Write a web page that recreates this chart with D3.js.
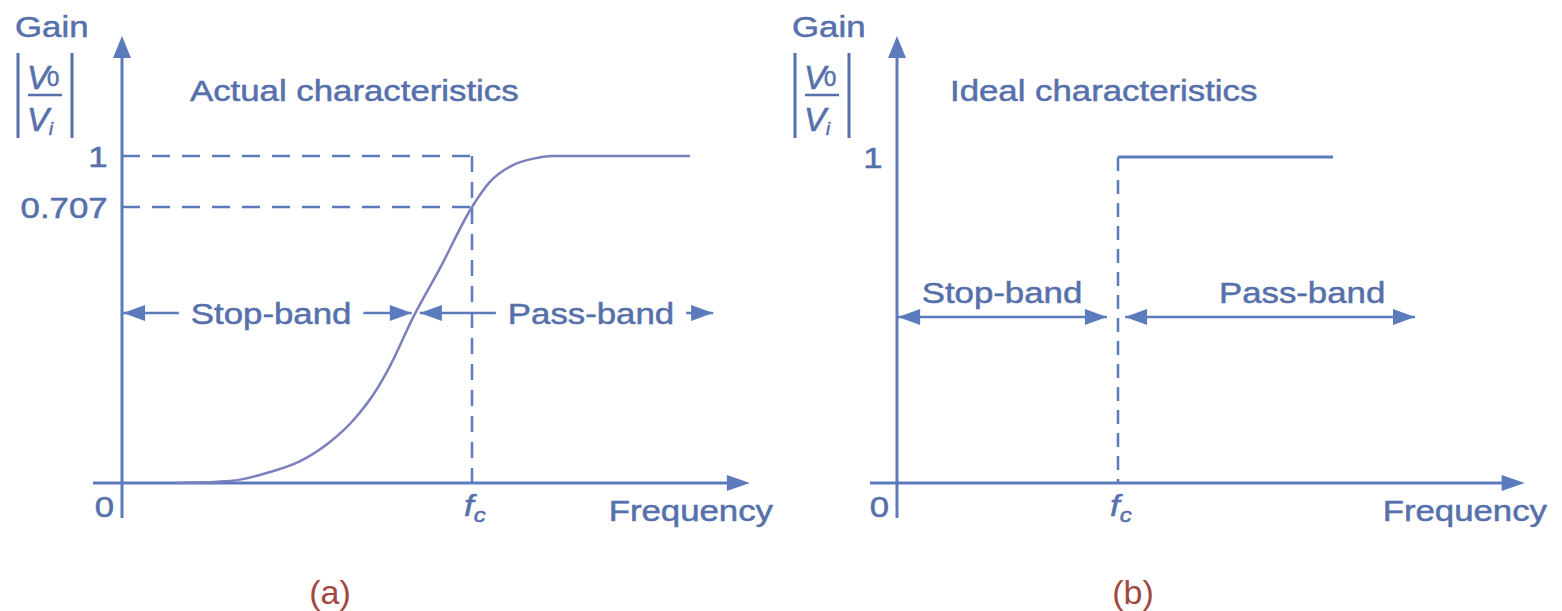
<!DOCTYPE html>
<html>
<head>
<meta charset="utf-8">
<script src="https://cdn.jsdelivr.net/npm/d3@7"></script>
<style>
    body { margin: 0; background: #fff; }
    svg text { font-family: "Liberation Sans", Arial, sans-serif; }
</style>
</head>
<body>
<svg id="chart" width="1562" height="611"></svg>
<script>
const actualFreq = [0.157, 0.309, 0.423, 0.509, 0.594, 0.666, 0.723, 0.766, 0.831, 0.909, 1.0, 1.051, 1.117, 1.186, 1.229, 1.623]
const actualGain = [0, 0.005, 0.028, 0.056, 0.105, 0.166, 0.233, 0.300, 0.423, 0.551, 0.707, 0.851, 0.948, 0.989, 1, 1]
// ideal filter: flat 1 above fc
const idealFreq = [1, 1.973]
const idealGain = [1, 1]
const gainTicksA = [1, 0.707]
const gainTicksB = [1]
const bandNames = ['Stop-band', 'Pass-band']
const panelTitles = ['Actual characteristics', 'Ideal characteristics']
const panelNames = ['(a)', '(b)']

const AXIS = '#5b7bbd'
const TEXT = '#5670ab'
const CURVE = '#7b80bd'
const NAME = '#a0483f'
const SX = 1.2 // the picture is a bit wider than it is tall
const FS = 29

const svg = d3.select('#chart')

function label(g, str, x, y, size, anchor) {
    return g.append('text')
        .attr('transform', `translate(${x},${y}) scale(${SX},1)`)
        .attr('text-anchor', anchor || 'start')
        .attr('font-size', size)
        .attr('fill', TEXT)
        .attr('stroke', TEXT).attr('stroke-width', 0.5)
        .text(str)
}

// filled triangle, tip at (x, y)
function head(g, x, y, dir, len = 22, half = 8) {
    let p
    if (dir === 'right') p = [[x, y], [x - len, y - half], [x - len, y + half]]
    else if (dir === 'left') p = [[x, y], [x + len, y - half], [x + len, y + half]]
    else p = [[x, y], [x - half - 1, y + len], [x + half + 1, y + len]]
    g.append('path').attr('d', 'M' + p.join('L') + 'Z').attr('fill', AXIS)
}

function bandArrow(g, x, y, band, name, inline) {
    const [from, to, at] = band
    g.append('line')
        .attr('x1', x(from)).attr('x2', x(to))
        .attr('y1', y).attr('y2', y)
        .attr('stroke', AXIS).attr('stroke-width', 2.5)
    head(g, x(from), y, 'left', 22, 8)
    head(g, x(to), y, 'right', 22, 8)
    const cx = x(at)
    if (inline) {
        const t = label(g, name, cx, y + 11, FS, 'middle')
        const w = t.node().getBBox().width * SX
        // clear a gap in the arrow for the text
        g.insert('rect', () => t.node())
            .attr('x', cx - w / 2 - 12).attr('width', w + 24)
            .attr('y', y - 6).attr('height', 12)
            .attr('fill', '#fff')
    } else {
        label(g, name, cx, y - 14, FS, 'middle')
    }
}

function ratioLabel(g, x0) {
    // |V0 / Vi| under "Gain"
    g.append('line').attr('x1', x0).attr('x2', x0).attr('y1', 53).attr('y2', 138)
        .attr('stroke', TEXT).attr('stroke-width', 3)
    g.append('line').attr('x1', x0 + 54).attr('x2', x0 + 54).attr('y1', 53).attr('y2', 138)
        .attr('stroke', TEXT).attr('stroke-width', 3)
    g.append('line').attr('x1', x0 + 10).attr('x2', x0 + 44).attr('y1', 95).attr('y2', 95)
        .attr('stroke', TEXT).attr('stroke-width', 2.5)
    const v0 = g.append('text').attr('x', x0 + 9).attr('y', 89).attr('fill', TEXT)
        .attr('stroke', TEXT).attr('stroke-width', 0.6).attr('font-size', 33)
    v0.append('tspan').attr('font-style', 'italic').text('V')
    v0.append('tspan').attr('font-size', 22).attr('dx', -2).attr('dy', -3).text('0')
    const vi = g.append('text').attr('x', x0 + 9).attr('y', 131).attr('fill', TEXT)
        .attr('stroke', TEXT).attr('stroke-width', 0.6).attr('font-size', 33)
    vi.append('tspan').attr('font-style', 'italic').text('V')
    vi.append('tspan').attr('font-size', 18).attr('font-style', 'italic').attr('dy', 4).text('i')
}

function drawPanel(p) {
    const g = svg.append('g')
    const x = d3.scaleLinear().domain([0, 1]).range(p.xRange)
    const y = d3.scaleLinear().domain(p.yDomain).range(p.yRange)

    // gain axis labels
    label(g, 'Gain', p.gainX, 37, FS)
    ratioLabel(g, p.gainX + 3)

    const yAxis = d3.axisLeft(y).tickValues(p.ticks).tickSize(0).tickPadding(12)
        .tickFormat(d => d === 1 ? '1' : d3.format('.3f')(d))
    const ya = g.append('g').attr('transform', `translate(${x(0)},0)`).call(yAxis)
    ya.select('.domain').remove()
    ya.selectAll('text')
        .attr('font-size', FS).attr('fill', TEXT)
        .attr('stroke', TEXT).attr('stroke-width', 0.5)
        .attr('font-family', '"Liberation Sans", Arial, sans-serif')
        .attr('transform', `scale(${SX},1)`).attr('dy', '0.36em')

    // dashed guides
    if (p.guides) {
        p.ticks.forEach(t => {
            g.append('line').attr('x1', x(0)).attr('x2', x(1)).attr('y1', y(t)).attr('y2', y(t))
                .attr('stroke', AXIS).attr('stroke-width', 2.5).attr('stroke-dasharray', '18,12')
        })
    }
    g.append('line').attr('x1', x(1)).attr('x2', x(1)).attr('y1', y(1)).attr('y2', y(0))
        .attr('stroke', AXIS).attr('stroke-width', 2.5).attr('stroke-dasharray', p.dash)

    // axes with arrow heads
    g.append('line').attr('x1', x(0)).attr('x2', x(0)).attr('y1', 518).attr('y2', 50)
        .attr('stroke', AXIS).attr('stroke-width', 3)
    head(g, x(0), 36, 'up', 22, 8)
    g.append('line').attr('x1', x(p.xMin)).attr('x2', x(p.xMax) - 10).attr('y1', y(0)).attr('y2', y(0))
        .attr('stroke', AXIS).attr('stroke-width', 3)
    head(g, x(p.xMax), y(0), 'right', 23, 8)

    // x labels
    label(g, '0', x(0) - 8, 517, FS, 'end')
    const fc = g.append('text')
        .attr('transform', `translate(${x(1) - 8},516) scale(${SX},1)`)
        .attr('font-size', FS).attr('fill', TEXT)
        .attr('stroke', TEXT).attr('stroke-width', 0.5)
    fc.append('tspan').attr('font-style', 'italic').text('f')
    fc.append('tspan').attr('font-size', 20).attr('font-style', 'italic').attr('dy', 6).text('c')
    label(g, 'Frequency', p.freqX, 521, FS, 'end')

    label(g, p.title, p.titleX, 101, FS)

    // response curve
    const line = d3.line()
        .x(d => x(d[0])).y(d => y(d[1]))
        .curve(p.smooth ? d3.curveMonotoneX : d3.curveLinear)
    g.append('path')
        .datum(d3.zip(p.freq, p.gain))
        .attr('fill', 'none')
        .attr('stroke', p.smooth ? CURVE : AXIS)
        .attr('stroke-width', p.smooth ? 2.5 : 3)
        .attr('d', line)

    bandArrow(g, x, p.bandY, p.stop, bandNames[0], p.inline)
    bandArrow(g, x, p.bandY, p.pass, bandNames[1], p.inline)

    svg.append('text')
        .attr('x', p.nameX).attr('y', 604)
        .attr('text-anchor', 'middle')
        .attr('font-family', '"DejaVu Sans Mono", monospace')
        .attr('font-size', 34).attr('fill', NAME)
        .text(p.name)
}

// band arrows: [start, end, text centre] in units of fc
drawPanel({
    xRange: [122, 472], yDomain: [0, 0.707, 1], yRange: [483, 207, 156],
    ticks: gainTicksA, guides: true, dash: '16,10', smooth: true,
    freq: actualFreq, gain: actualGain,
    xMin: -0.083, xMax: 1.794, gainX: 15, freqX: 773,
    title: panelTitles[0], titleX: 190, name: panelNames[0], nameX: 330,
    bandY: 313, inline: true, stop: [0.003, 0.828, 0.426], pass: [0.851, 1.689, 1.34]
})
drawPanel({
    xRange: [897, 1118], yDomain: [0, 1], yRange: [483, 157],
    ticks: gainTicksB, guides: false, dash: '14,9', smooth: false,
    freq: idealFreq, gain: idealGain,
    xMin: -0.122, xMax: 2.84, gainX: 792, freqX: 1547,
    title: panelTitles[1], titleX: 950, name: panelNames[1], nameX: 1133,
    bandY: 317, inline: false, stop: [0.005, 0.95, 0.475], pass: [1.032, 2.344, 1.833]
})
</script>
</body>
</html>
